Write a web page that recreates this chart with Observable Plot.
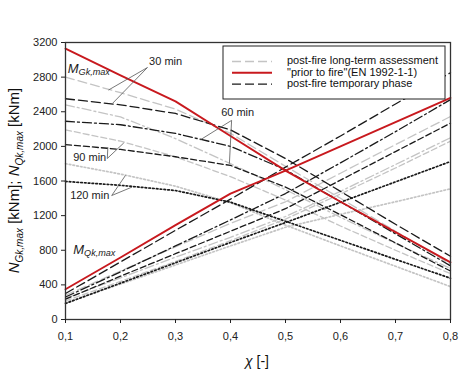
<!DOCTYPE html>
<html><head><meta charset="utf-8">
<script src="https://cdn.jsdelivr.net/npm/d3@7"></script>
<script src="https://cdn.jsdelivr.net/npm/@observablehq/plot@0.6"></script>
<style>body{margin:0;background:#fff;} #chart{width:474px;height:370px;}</style>
</head><body><div id="chart"></div>
<script>
// ---- data ----
const chi = [0.1, 0.2, 0.3, 0.4, 0.5, 0.6, 0.7, 0.8];
const xTickLabels = ["0,1", "0,2", "0,3", "0,4", "0,5", "0,6", "0,7", "0,8"];
const yTicks = [0, 400, 800, 1200, 1600, 2000, 2400, 2800, 3200];

// M_Gk,max (decreasing)
const gkPrior   = [3130, 2820, 2520, 2120, 1720, 1360, 1010, 660];
const gkLong30  = [2800, 2620, 2430, 2150, 1770, 1400, 1020, 640];
const gkTemp30  = [2550, 2480, 2380, 2190, 1860, 1480, 1100, 730];
const gkLong60  = [2480, 2340, 2090, 1800, 1500, 1180, 880, 590];
const gkTemp60  = [2290, 2250, 2150, 2000, 1730, 1360, 990, 620];
const gkLong90  = [2190, 2060, 1880, 1650, 1380, 1080, 800, 530];
const gkTemp90  = [2020, 1965, 1880, 1780, 1530, 1210, 885, 560];
const gkLong120 = [1800, 1680, 1540, 1350, 1090, 850, 615, 380];
const gkTemp120 = [1595, 1550, 1490, 1355, 1135, 915, 695, 477];

// M_Qk,max (increasing)
const qkPrior   = [350, 716, 1090, 1455, 1720, 2000, 2280, 2560];
const qkTemp30  = [300, 665, 1030, 1390, 1760, 2120, 2490, 2850];
const qkLong30  = [280, 560, 840, 1110, 1360, 1690, 2020, 2345];
const qkTemp60  = [260, 550, 850, 1150, 1455, 1810, 2170, 2540];
const qkLong60  = [245, 480, 720, 950, 1190, 1480, 1790, 2100];
const qkTemp90  = [235, 500, 760, 1020, 1280, 1610, 1940, 2268];
const qkLong90  = [215, 440, 670, 910, 1160, 1450, 1750, 2060];
const qkTemp120 = [185, 420, 655, 890, 1120, 1355, 1590, 1825];
const qkLong120 = [195, 410, 630, 850, 1066, 1215, 1360, 1510];

const legendLabels = ["post-fire long-term assessment", "\"prior to fire\"(EN 1992-1-1)", "post-fire temporary phase"];

// ---- series definitions ----
const series = [
  {v: gkLong30, kind: "long", t: 30}, {v: gkLong60, kind: "long", t: 60},
  {v: gkLong90, kind: "long", t: 90}, {v: gkLong120, kind: "long", t: 120},
  {v: qkLong30, kind: "long", t: 30}, {v: qkLong60, kind: "long", t: 60},
  {v: qkLong90, kind: "long", t: 90}, {v: qkLong120, kind: "long", t: 120},
  {v: gkTemp30, kind: "temp", t: 30}, {v: gkTemp60, kind: "temp", t: 60},
  {v: gkTemp90, kind: "temp", t: 90}, {v: gkTemp120, kind: "temp", t: 120},
  {v: qkTemp30, kind: "temp", t: 30}, {v: qkTemp60, kind: "temp", t: 60},
  {v: qkTemp90, kind: "temp", t: 90}, {v: qkTemp120, kind: "temp", t: 120},
  {v: gkPrior, kind: "prior", t: 0}, {v: qkPrior, kind: "prior", t: 0}
];

// ---- styles ----
const colors = {long: "#c4c4c4", temp: "#1a1a1a", prior: "#c8191e"};
const dashes = {0: null, 30: "9,4", 60: "9,3,2,3", 90: "6,3", 120: "1.6,2.2"};
const widthOf = s => s.kind === "prior" ? 1.9 : (s.t === 120 ? 1.7 : 1.3);

const lineMarks = series.map(s => Plot.line(chi.map((x, i) => ({x, y: s.v[i]})), {
  x: "x", y: "y", stroke: colors[s.kind], strokeWidth: widthOf(s),
  strokeDasharray: dashes[s.t]
}));

// annotations (data coordinates)
const annoTexts = [
  {x: 0.282, y: 2985, t: "30 min"},
  {x: 0.413, y: 2395, t: "60 min"},
  {x: 0.144, y: 1870, t: "90 min"},
  {x: 0.144, y: 1430, t: "120 min"}
];
const annoLinks = [
  {x1: 0.249, y1: 2911, x2: 0.178, y2: 2650},
  {x1: 0.249, y1: 2911, x2: 0.186, y2: 2500},
  {x1: 0.402, y1: 2300, x2: 0.345, y2: 2075},
  {x1: 0.402, y1: 2300, x2: 0.398, y2: 1800},
  {x1: 0.176, y1: 1860, x2: 0.177, y2: 1990},
  {x1: 0.176, y1: 1860, x2: 0.206, y2: 2040},
  {x1: 0.184, y1: 1432, x2: 0.209, y2: 1664},
  {x1: 0.184, y1: 1432, x2: 0.221, y2: 1530}
];
const xLabelMap = new Map(chi.map((c, i) => [c, xTickLabels[i]]));

const plot = Plot.plot({
  width: 474, height: 370,
  marginLeft: 65, marginRight: 24, marginTop: 42, marginBottom: 51,
  style: {fontFamily: "'Liberation Sans', Arial, sans-serif", fontSize: "11px", color: "#222", background: "white"},
  x: {domain: [0.1, 0.8]},
  y: {domain: [0, 3200]},
  marks: [
    ...lineMarks,
    Plot.link(annoLinks, {x1: "x1", y1: "y1", x2: "x2", y2: "y2", stroke: "#555", strokeWidth: 0.8}),
    Plot.text(annoTexts, {x: "x", y: "y", text: "t", fontSize: 11, fill: "#222", textAnchor: "middle"}),
    Plot.frame({stroke: "#333", strokeWidth: 1.3}),
    Plot.axisX({ticks: chi, tickFormat: d => xLabelMap.get(d), tickSize: 4, tickPadding: 9, label: null, fontSize: 11}),
    Plot.axisY({ticks: yTicks, tickFormat: d => String(d), tickSize: 4, tickPadding: 4, label: null, fontSize: 11})
  ]
});
document.getElementById("chart").appendChild(plot);

// ---- extra text with subscripts, legend ----
const svg = d3.select(plot);
const xs = plot.scale("x"), ys = plot.scale("y");
const FONT = "'Liberation Sans', Arial, sans-serif";

function subLabel(px, py, main, sub, size) {
  const t = svg.append("text").attr("x", px).attr("y", py).attr("font-family", FONT)
    .attr("text-anchor", "start")
    .attr("font-size", size).attr("fill", "#222").attr("dominant-baseline", "middle");
  t.append("tspan").attr("font-style", "italic").text(main);
  t.append("tspan").attr("font-style", "italic").attr("font-size", size * 0.7).attr("dy", size * 0.28).text(sub);
}
subLabel(xs.apply(0.105), ys.apply(2880), "M", "Gk,max", 13);
subLabel(xs.apply(0.115), ys.apply(790), "M", "Qk,max", 13);

// y axis label
const yl = svg.append("text").attr("transform", `translate(19,${(42 + 319) / 2}) rotate(-90)`)
  .attr("text-anchor", "middle").attr("font-family", FONT).attr("font-size", 15).attr("fill", "#111");
yl.append("tspan").attr("font-style", "italic").text("N");
yl.append("tspan").attr("font-style", "italic").attr("font-size", 10).attr("dy", 4).text("Gk,max");
yl.append("tspan").attr("dy", -4).text(" [kNm]; ");
yl.append("tspan").attr("font-style", "italic").text("N");
yl.append("tspan").attr("font-style", "italic").attr("font-size", 10).attr("dy", 4).text("Qk,max");
yl.append("tspan").attr("dy", -4).text(" [kNm]");

// x axis label
const xl = svg.append("text").attr("x", 257).attr("y", 362).attr("text-anchor", "middle")
  .attr("font-family", FONT).attr("font-size", 14).attr("fill", "#111").attr("dominant-baseline", "middle");
xl.append("tspan").attr("font-style", "italic").text("χ");
xl.append("tspan").text(" [-]");

// legend
const lg = svg.append("g").attr("transform", "translate(223,46)");
lg.append("rect").attr("width", 222).attr("height", 53).attr("fill", "white").attr("stroke", "#222").attr("stroke-width", 1);
const legendStyles = [
  {c: colors.long, d: dashes[30], w: 1.3},
  {c: colors.prior, d: null, w: 1.9},
  {c: colors.temp, d: dashes[30], w: 1.3}
];
legendLabels.forEach((lab, i) => {
  const y = 15.5 + i * 11.3;
  lg.append("line").attr("x1", 9).attr("x2", 49).attr("y1", y).attr("y2", y)
    .attr("stroke", legendStyles[i].c).attr("stroke-width", legendStyles[i].w)
    .attr("stroke-dasharray", legendStyles[i].d);
  lg.append("text").attr("x", 64).attr("y", y).attr("dominant-baseline", "middle")
    .attr("text-anchor", "start")
    .attr("font-family", FONT).attr("font-size", 11).attr("fill", "#111").text(lab);
});
</script></body></html>
